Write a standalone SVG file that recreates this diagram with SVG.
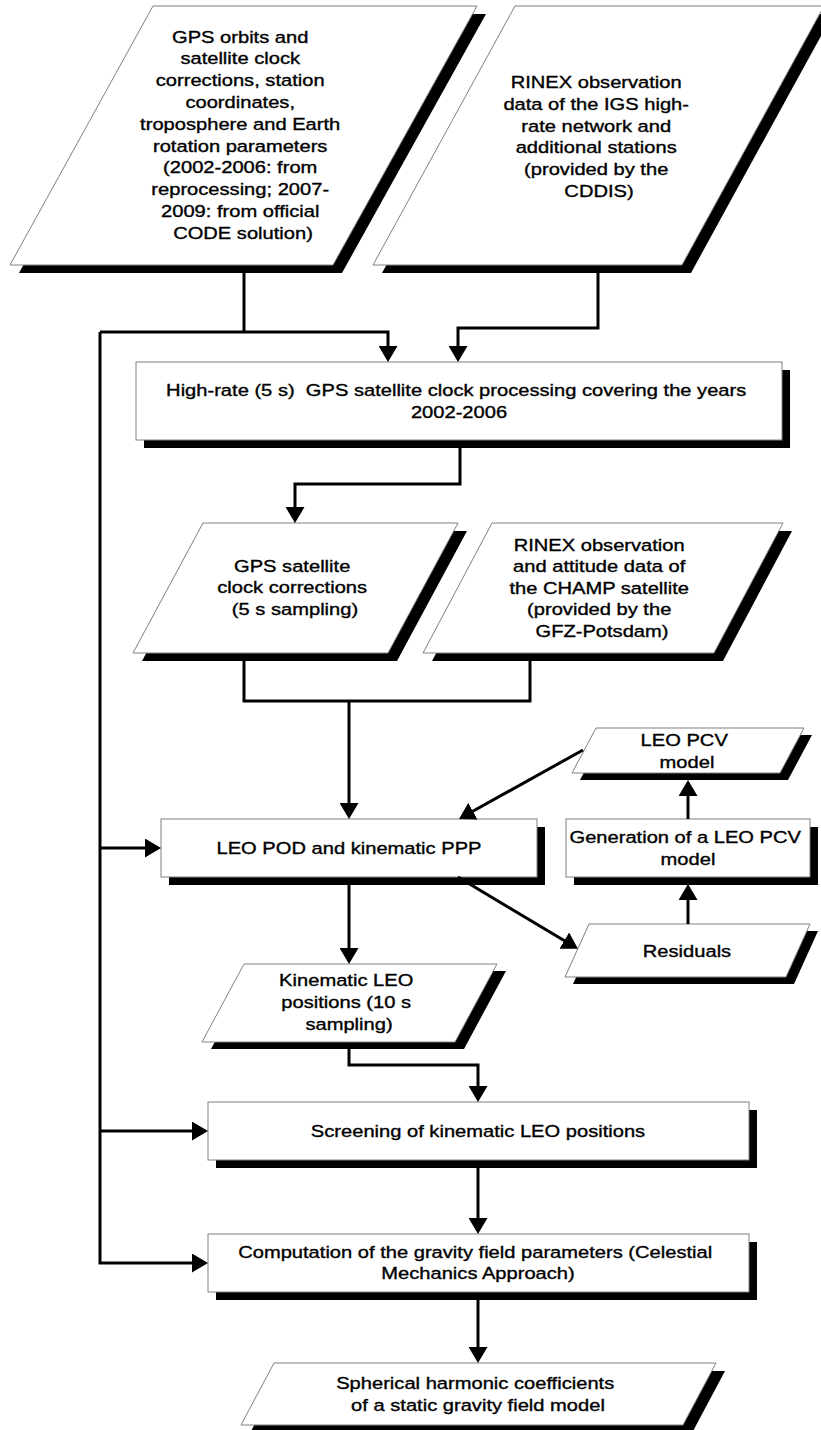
<svg xmlns="http://www.w3.org/2000/svg" width="821" height="1430" viewBox="0 0 821 1430">
<style>
.bg{fill:#fff}
.sh{fill:#000}
.nd{fill:#fff;stroke:#808080;stroke-width:1}
.t{font-family:"Liberation Sans",Arial,sans-serif;font-size:16.5px;fill:#000;stroke:#000;stroke-width:0.35;text-anchor:middle}
.c{fill:none;stroke:#000;stroke-width:3}
</style>
<defs>
<marker id="ah" viewBox="0 0 16 19" refX="13" refY="9.5" markerWidth="16" markerHeight="19" markerUnits="userSpaceOnUse" orient="auto">
<path d="M0,0 L16,9.5 L0,19 Z" fill="#000"/>
</marker>
</defs>
<rect class="bg" x="0" y="0" width="821" height="1430"/>

<g id="n-gps-orbits">
<polygon class="sh" points="162,14 486,14 342,273 19,273"/>
<polygon class="nd" points="153,6 477,6 333,265 10,265"/>
<text class="t" transform="translate(243 0) scale(1.22 1)">
<tspan x="0" y="42.7">GPS orbits and</tspan>
<tspan x="0" y="64.5">satellite clock</tspan>
<tspan x="0" y="86.3">corrections, station</tspan>
<tspan x="0" y="108.1">coordinates,</tspan>
<tspan x="0" y="129.9">troposphere and Earth</tspan>
<tspan x="0" y="151.7">rotation parameters</tspan>
<tspan x="0" y="173.5">(2002-2006: from</tspan>
<tspan x="0" y="195.3">reprocessing; 2007-</tspan>
<tspan x="0" y="217.1">2009: from official</tspan>
<tspan x="0" y="238.9">CODE solution)</tspan>
</text>
</g>

<g id="n-rinex-igs">
<polygon class="sh" points="524,14 833,14 691,273 382,273"/>
<polygon class="nd" points="515,6 824,6 682,265 373,265"/>
<text class="t" transform="translate(599 0) scale(1.22 1)">
<tspan x="0" y="88">RINEX observation</tspan>
<tspan x="0" y="109.8">data of the IGS high-</tspan>
<tspan x="0" y="131.6">rate network and</tspan>
<tspan x="0" y="153.4">additional stations</tspan>
<tspan x="0" y="175.2">(provided by the</tspan>
<tspan x="0" y="197">CDDIS)</tspan>
</text>
</g>

<g id="n-highrate">
<rect class="sh" x="144" y="370" width="646" height="78"/>
<rect class="nd" x="136" y="362" width="646" height="78"/>
<text class="t" transform="translate(459 0) scale(1.22 1)">
<tspan x="0" y="396">High-rate (5 s)&#160; GPS satellite clock processing covering the years</tspan>
<tspan x="0" y="418">2002-2006</tspan>
</text>
</g>

<g id="n-gps-clock">
<polygon class="sh" points="212,531 467,531 397,661 142,661"/>
<polygon class="nd" points="203,523 458,523 388,653 133,653"/>
<text class="t" transform="translate(295 0) scale(1.22 1)">
<tspan x="0" y="572">GPS satellite</tspan>
<tspan x="0" y="593.5">clock corrections</tspan>
<tspan x="0" y="615">(5 s sampling)</tspan>
</text>
</g>

<g id="n-rinex-champ">
<polygon class="sh" points="501,531 792,531 723,661 432,661"/>
<polygon class="nd" points="492,523 783,523 714,653 423,653"/>
<text class="t" transform="translate(602 0) scale(1.22 1)">
<tspan x="0" y="551">RINEX observation</tspan>
<tspan x="0" y="572.5">and attitude data of</tspan>
<tspan x="0" y="594">the CHAMP satellite</tspan>
<tspan x="0" y="615.5">(provided by the</tspan>
<tspan x="0" y="637">GFZ-Potsdam)</tspan>
</text>
</g>

<g id="n-leo-pod">
<rect class="sh" x="169" y="827" width="376" height="58"/>
<rect class="nd" x="161" y="819" width="376" height="58"/>
<text class="t" transform="translate(349 0) scale(1.22 1)"><tspan x="0" y="854">LEO POD and kinematic PPP</tspan></text>
</g>

<g id="n-pcv-model">
<polygon class="sh" points="604,735 812,735 788,780 580,780"/>
<polygon class="nd" points="596,728 804,728 780,773 572,773"/>
<text class="t" transform="translate(687 0) scale(1.22 1)">
<tspan x="0" y="746">LEO PCV</tspan>
<tspan x="0" y="768">model</tspan>
</text>
</g>

<g id="n-generation">
<rect class="sh" x="574" y="827" width="244" height="58"/>
<rect class="nd" x="566" y="819" width="244" height="58"/>
<text class="t" transform="translate(688 0) scale(1.22 1)">
<tspan x="0" y="843">Generation of a LEO PCV</tspan>
<tspan x="0" y="865.5">model</tspan>
</text>
</g>

<g id="n-residuals">
<polygon class="sh" points="597,931 818,931 794,984 573,984"/>
<polygon class="nd" points="589,924 810,924 786,977 565,977"/>
<text class="t" transform="translate(687 0) scale(1.22 1)"><tspan x="0" y="957">Residuals</tspan></text>
</g>

<g id="n-kinematic">
<polygon class="sh" points="253,971 506,971 464,1049 211,1049"/>
<polygon class="nd" points="244,964 497,964 455,1042 202,1042"/>
<text class="t" transform="translate(349 0) scale(1.22 1)">
<tspan x="0" y="986">Kinematic LEO</tspan>
<tspan x="0" y="1008">positions (10 s</tspan>
<tspan x="0" y="1030">sampling)</tspan>
</text>
</g>

<g id="n-screening">
<rect class="sh" x="216" y="1110" width="541" height="58"/>
<rect class="nd" x="208" y="1102" width="541" height="58"/>
<text class="t" transform="translate(478 0) scale(1.22 1)"><tspan x="0" y="1137">Screening of kinematic LEO positions</tspan></text>
</g>

<g id="n-computation">
<rect class="sh" x="216" y="1242" width="541" height="58"/>
<rect class="nd" x="208" y="1234" width="541" height="58"/>
<text class="t" transform="translate(478 0) scale(1.22 1)">
<tspan x="0" y="1258">Computation of the gravity field parameters (Celestial</tspan>
<tspan x="0" y="1279">Mechanics Approach)</tspan>
</text>
</g>

<g id="n-spherical">
<polygon class="sh" points="283,1371 725,1371 692,1433 250,1433"/>
<polygon class="nd" points="274,1363 716,1363 683,1425 241,1425"/>
<text class="t" transform="translate(478 0) scale(1.22 1)">
<tspan x="0" y="1389">Spherical harmonic coefficients</tspan>
<tspan x="0" y="1411">of a static gravity field model</tspan>
</text>
</g>

<g id="connectors">
<path class="c" d="M244,273 V332"/>
<path class="c" d="M100,332 H388 V359" marker-end="url(#ah)"/>
<path class="c" d="M598,273 V328 H458 V359" marker-end="url(#ah)"/>
<path class="c" d="M100,332 V1263 H205" marker-end="url(#ah)"/>
<path class="c" d="M100,848 H158" marker-end="url(#ah)"/>
<path class="c" d="M100,1131 H205" marker-end="url(#ah)"/>
<path class="c" d="M460,448 V484 H295 V520" marker-end="url(#ah)"/>
<path class="c" d="M244,661 V701 H530 V661"/>
<path class="c" d="M349,701 V816" marker-end="url(#ah)"/>
<path class="c" d="M583,750 L461.6,817.5" marker-end="url(#ah)"/>
<path class="c" d="M458,877 L575.4,947.3" marker-end="url(#ah)"/>
<path class="c" d="M688,819 V783" marker-end="url(#ah)"/>
<path class="c" d="M688,924 V887" marker-end="url(#ah)"/>
<path class="c" d="M349,885 V961" marker-end="url(#ah)"/>
<path class="c" d="M349,1049 V1065 H478 V1099" marker-end="url(#ah)"/>
<path class="c" d="M478,1168 V1231" marker-end="url(#ah)"/>
<path class="c" d="M478,1300 V1360" marker-end="url(#ah)"/>
</g>
</svg>
